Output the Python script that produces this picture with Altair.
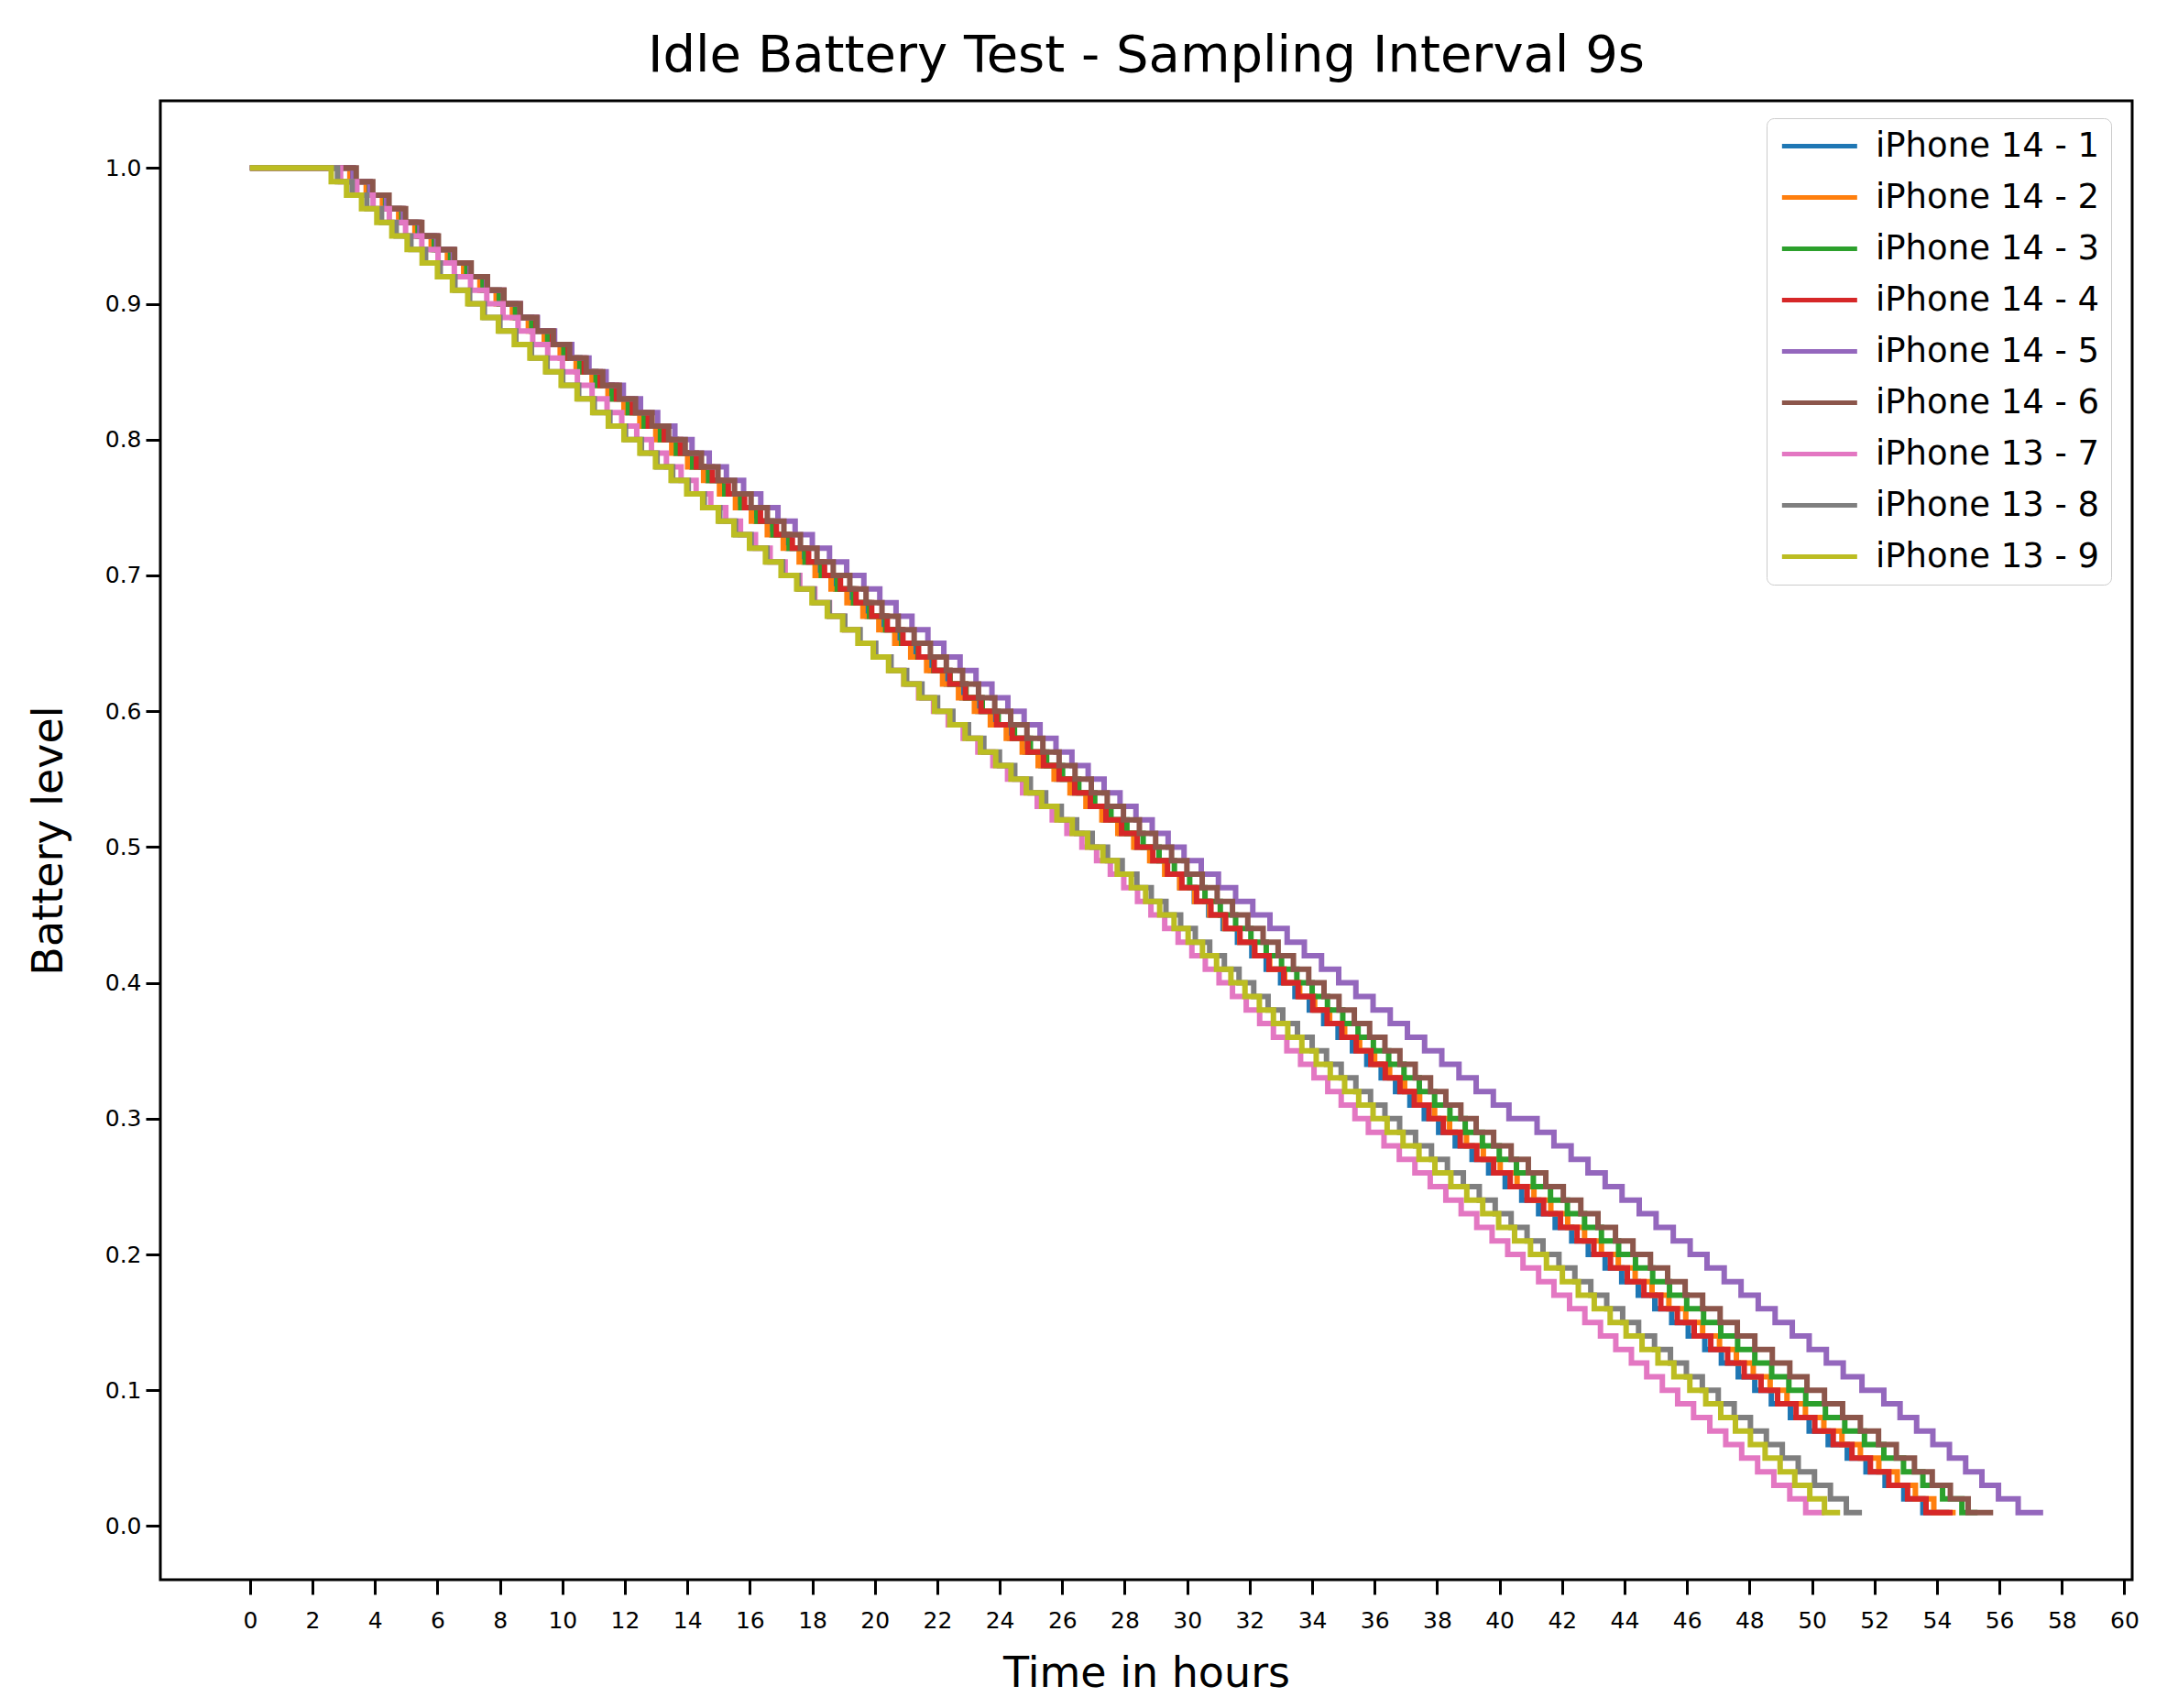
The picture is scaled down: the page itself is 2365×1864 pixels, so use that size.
import altair as alt
import pandas as pd

SERIES = ["iPhone 14 - 1", "iPhone 14 - 2", "iPhone 14 - 3", "iPhone 14 - 4", "iPhone 14 - 5",
          "iPhone 14 - 6", "iPhone 13 - 7", "iPhone 13 - 8", "iPhone 13 - 9"]
COLORS = ["#1f77b4", "#ff7f0e", "#2ca02c", "#d62728", "#9467bd",
          "#8c564b", "#e377c2", "#7f7f7f", "#bcbd22"]

X_TICKS = [0, 2, 4, 6, 8, 10, 12, 14, 16, 18, 20, 22, 24, 26, 28, 30,
           32, 34, 36, 38, 40, 42, 44, 46, 48, 50, 52, 54, 56, 58, 60]
Y_TICKS = [0.0, 0.1, 0.2, 0.3, 0.4, 0.5, 0.6, 0.7, 0.8, 0.9, 1.0]

# battery level reached at each time sample (1% steps), last sample repeats 0.01
LEVELS = [1.00, 0.99, 0.98, 0.97, 0.96, 0.95, 0.94, 0.93, 0.92, 0.91, 0.90,
          0.89, 0.88, 0.87, 0.86, 0.85, 0.84, 0.83, 0.82, 0.81, 0.80,
          0.79, 0.78, 0.77, 0.76, 0.75, 0.74, 0.73, 0.72, 0.71, 0.70,
          0.69, 0.68, 0.67, 0.66, 0.65, 0.64, 0.63, 0.62, 0.61, 0.60,
          0.59, 0.58, 0.57, 0.56, 0.55, 0.54, 0.53, 0.52, 0.51, 0.50,
          0.49, 0.48, 0.47, 0.46, 0.45, 0.44, 0.43, 0.42, 0.41, 0.40,
          0.39, 0.38, 0.37, 0.36, 0.35, 0.34, 0.33, 0.32, 0.31, 0.30,
          0.29, 0.28, 0.27, 0.26, 0.25, 0.24, 0.23, 0.22, 0.21, 0.20,
          0.19, 0.18, 0.17, 0.16, 0.15, 0.14, 0.13, 0.12, 0.11, 0.10,
          0.09, 0.08, 0.07, 0.06, 0.05, 0.04, 0.03, 0.02, 0.01, 0.01]

# time in hours at which each level above is reached
T_14_1 = [0, 3.20, 3.73, 4.26, 4.79, 5.32, 5.85, 6.38, 6.91, 7.44, 7.97, 8.50,
          9.01, 9.53, 10.04, 10.55, 11.06, 11.58, 12.09, 12.60, 13.11, 13.63, 14.14, 14.65, 15.16, 15.68, 16.19, 16.70, 17.21, 17.73, 18.24, 18.75,
          19.26, 19.76, 20.27, 20.77, 21.28, 21.78, 22.29, 22.79, 23.30, 23.80, 24.31, 24.81, 25.32, 25.82, 26.33, 26.83, 27.34, 27.84, 28.35, 28.85,
          29.31, 29.77, 30.23, 30.69, 31.15, 31.61, 32.07, 32.53, 32.99, 33.45, 33.91, 34.37, 34.83, 35.29, 35.75, 36.21, 36.67, 37.13, 37.59, 38.05,
          38.58, 39.12, 39.65, 40.18, 40.71, 41.25, 41.78, 42.31, 42.84, 43.38, 43.91, 44.44, 44.97, 45.51, 46.04, 46.57, 47.10, 47.64, 48.17, 48.70,
          49.31, 49.91, 50.52, 51.13, 51.73, 52.34, 52.94, 53.55, 54.40]
T_14_2 = [0, 3.20, 3.72, 4.24, 4.76, 5.28, 5.80, 6.32, 6.84, 7.36, 7.88, 8.40,
          8.91, 9.42, 9.93, 10.44, 10.95, 11.46, 11.97, 12.48, 12.99, 13.50, 14.01, 14.52, 15.03, 15.54, 16.05, 16.56, 17.07, 17.58, 18.09, 18.60,
          19.11, 19.62, 20.13, 20.64, 21.15, 21.66, 22.17, 22.68, 23.19, 23.70, 24.21, 24.72, 25.23, 25.74, 26.25, 26.76, 27.27, 27.78, 28.29, 28.80,
          29.28, 29.76, 30.24, 30.72, 31.20, 31.68, 32.16, 32.64, 33.12, 33.60, 34.08, 34.56, 35.04, 35.52, 36.00, 36.48, 36.96, 37.44, 37.92, 38.40,
          38.94, 39.48, 40.02, 40.56, 41.10, 41.64, 42.18, 42.72, 43.26, 43.80, 44.34, 44.88, 45.42, 45.96, 46.50, 47.04, 47.58, 48.12, 48.66, 49.20,
          49.79, 50.38, 50.96, 51.55, 52.14, 52.73, 53.31, 53.90, 54.60]
T_14_3 = [0, 3.30, 3.82, 4.34, 4.86, 5.38, 5.90, 6.42, 6.94, 7.46, 7.98, 8.50,
          9.02, 9.53, 10.05, 10.56, 11.08, 11.59, 12.11, 12.62, 13.14, 13.65, 14.17, 14.68, 15.20, 15.71, 16.23, 16.74, 17.26, 17.77, 18.29, 18.80,
          19.32, 19.83, 20.35, 20.86, 21.38, 21.89, 22.41, 22.92, 23.44, 23.95, 24.47, 24.98, 25.50, 26.01, 26.53, 27.04, 27.56, 28.07, 28.59, 29.10,
          29.59, 30.08, 30.57, 31.06, 31.55, 32.04, 32.53, 33.02, 33.51, 34.00, 34.49, 34.98, 35.47, 35.96, 36.45, 36.94, 37.43, 37.92, 38.41, 38.90,
          39.45, 39.99, 40.54, 41.08, 41.63, 42.17, 42.72, 43.26, 43.81, 44.35, 44.90, 45.44, 45.99, 46.53, 47.08, 47.62, 48.17, 48.71, 49.26, 49.80,
          50.43, 51.05, 51.68, 52.30, 52.93, 53.55, 54.18, 54.80, 55.30]
T_14_4 = [0, 3.30, 3.84, 4.37, 4.91, 5.44, 5.98, 6.51, 7.05, 7.58, 8.12, 8.65,
          9.16, 9.68, 10.19, 10.70, 11.21, 11.73, 12.24, 12.75, 13.26, 13.78, 14.29, 14.80, 15.31, 15.83, 16.34, 16.85, 17.36, 17.88, 18.39, 18.90,
          19.40, 19.90, 20.40, 20.90, 21.40, 21.90, 22.40, 22.90, 23.40, 23.90, 24.40, 24.90, 25.40, 25.90, 26.40, 26.90, 27.40, 27.90, 28.40, 28.90,
          29.37, 29.83, 30.30, 30.76, 31.23, 31.69, 32.16, 32.62, 33.09, 33.55, 34.02, 34.48, 34.95, 35.41, 35.88, 36.34, 36.81, 37.27, 37.74, 38.20,
          38.74, 39.27, 39.81, 40.34, 40.88, 41.41, 41.95, 42.48, 43.02, 43.55, 44.09, 44.62, 45.16, 45.69, 46.23, 46.76, 47.30, 47.83, 48.37, 48.90,
          49.49, 50.09, 50.68, 51.28, 51.87, 52.46, 53.06, 53.65, 54.50]
T_14_5 = [0, 3.30, 3.84, 4.37, 4.91, 5.44, 5.98, 6.51, 7.05, 7.58, 8.12, 8.65,
          9.20, 9.75, 10.30, 10.85, 11.40, 11.95, 12.50, 13.05, 13.60, 14.15, 14.70, 15.25, 15.80, 16.35, 16.90, 17.45, 18.00, 18.55, 19.10, 19.65,
          20.16, 20.68, 21.19, 21.70, 22.21, 22.73, 23.24, 23.75, 24.26, 24.78, 25.29, 25.80, 26.31, 26.83, 27.34, 27.85, 28.36, 28.88, 29.39, 29.90,
          30.45, 31.00, 31.55, 32.10, 32.65, 33.20, 33.75, 34.30, 34.85, 35.40, 35.95, 36.50, 37.05, 37.60, 38.15, 38.70, 39.25, 39.80, 40.30, 41.20,
          41.74, 42.29, 42.83, 43.38, 43.92, 44.47, 45.01, 45.56, 46.10, 46.64, 47.19, 47.73, 48.28, 48.82, 49.37, 49.91, 50.46, 51.00, 51.60, 52.30,
          52.82, 53.35, 53.87, 54.40, 54.92, 55.44, 55.97, 56.60, 57.40]
T_14_6 = [0, 3.40, 3.93, 4.45, 4.98, 5.50, 6.03, 6.55, 7.08, 7.60, 8.13, 8.65,
          9.18, 9.71, 10.23, 10.76, 11.29, 11.82, 12.34, 12.87, 13.40, 13.93, 14.45, 14.98, 15.51, 16.04, 16.56, 17.09, 17.62, 18.15, 18.67, 19.20,
          19.72, 20.23, 20.75, 21.26, 21.78, 22.29, 22.81, 23.32, 23.84, 24.35, 24.87, 25.38, 25.90, 26.41, 26.93, 27.44, 27.96, 28.47, 28.99, 29.50,
          29.99, 30.48, 30.96, 31.45, 31.94, 32.43, 32.91, 33.40, 33.89, 34.38, 34.86, 35.35, 35.84, 36.33, 36.81, 37.30, 37.79, 38.28, 38.76, 39.25,
          39.81, 40.37, 40.92, 41.48, 42.04, 42.60, 43.15, 43.71, 44.27, 44.83, 45.38, 45.94, 46.50, 47.06, 47.61, 48.17, 48.73, 49.29, 49.84, 50.40,
          50.98, 51.55, 52.13, 52.70, 53.28, 53.85, 54.43, 55.00, 55.80]
T_13_7 = [0, 2.90, 3.42, 3.94, 4.46, 4.98, 5.50, 6.02, 6.54, 7.06, 7.58, 8.10,
          8.58, 9.05, 9.53, 10.00, 10.48, 10.95, 11.43, 11.90, 12.38, 12.85, 13.33, 13.80, 14.28, 14.75, 15.23, 15.70, 16.18, 16.65, 17.13, 17.60,
          18.08, 18.55, 19.03, 19.50, 19.98, 20.45, 20.93, 21.40, 21.88, 22.35, 22.83, 23.30, 23.78, 24.25, 24.73, 25.20, 25.68, 26.15, 26.63, 27.10,
          27.54, 27.97, 28.41, 28.84, 29.28, 29.71, 30.15, 30.58, 31.02, 31.45, 31.89, 32.32, 32.76, 33.19, 33.63, 34.06, 34.50, 34.93, 35.37, 35.80,
          36.30, 36.79, 37.29, 37.78, 38.28, 38.77, 39.27, 39.76, 40.26, 40.75, 41.25, 41.74, 42.24, 42.73, 43.23, 43.72, 44.22, 44.71, 45.21, 45.70,
          46.21, 46.73, 47.24, 47.75, 48.26, 48.78, 49.29, 49.80, 50.40]
T_13_8 = [0, 2.80, 3.27, 3.74, 4.21, 4.68, 5.15, 5.62, 6.09, 6.56, 7.03, 7.50,
          8.00, 8.51, 9.01, 9.51, 10.01, 10.52, 11.02, 11.52, 12.02, 12.53, 13.03, 13.53, 14.03, 14.54, 15.04, 15.54, 16.04, 16.55, 17.05, 17.55,
          18.05, 18.54, 19.04, 19.53, 20.03, 20.52, 21.02, 21.51, 22.01, 22.50, 23.00, 23.49, 23.99, 24.48, 24.98, 25.47, 25.97, 26.46, 26.96, 27.45,
          27.92, 28.39, 28.85, 29.32, 29.79, 30.26, 30.72, 31.19, 31.66, 32.13, 32.59, 33.06, 33.53, 34.00, 34.46, 34.93, 35.40, 35.87, 36.33, 36.80,
          37.31, 37.82, 38.33, 38.84, 39.35, 39.86, 40.37, 40.88, 41.39, 41.90, 42.41, 42.92, 43.43, 43.94, 44.45, 44.96, 45.47, 45.98, 46.49, 47.00,
          47.51, 48.03, 48.54, 49.05, 49.56, 50.08, 50.59, 51.10, 51.60]
T_13_9 = [0, 2.60, 3.09, 3.57, 4.06, 4.54, 5.03, 5.51, 6.00, 6.48, 6.97, 7.45,
          7.95, 8.46, 8.96, 9.46, 9.96, 10.47, 10.97, 11.47, 11.97, 12.48, 12.98, 13.48, 13.98, 14.49, 14.99, 15.49, 15.99, 16.50, 17.00, 17.50,
          17.99, 18.48, 18.97, 19.46, 19.95, 20.44, 20.93, 21.42, 21.91, 22.40, 22.89, 23.38, 23.87, 24.36, 24.85, 25.34, 25.83, 26.32, 26.81, 27.30,
          27.76, 28.21, 28.67, 29.12, 29.58, 30.03, 30.49, 30.94, 31.40, 31.85, 32.31, 32.76, 33.22, 33.67, 34.13, 34.58, 35.04, 35.49, 35.95, 36.40,
          36.91, 37.42, 37.93, 38.44, 38.95, 39.46, 39.97, 40.48, 40.99, 41.50, 42.01, 42.52, 43.03, 43.54, 44.05, 44.56, 45.07, 45.58, 46.09, 46.60,
          47.08, 47.55, 48.03, 48.50, 48.98, 49.45, 49.93, 50.40, 50.90]

TIMES = [T_14_1, T_14_2, T_14_3, T_14_4, T_14_5, T_14_6, T_13_7, T_13_8, T_13_9]

frames = []
for name, times in zip(SERIES, TIMES):
    assert len(times) == len(LEVELS), (name, len(times))
    frames.append(pd.DataFrame({"series": name, "t": times, "level": LEVELS}))

FONT = "DejaVu Sans"

color = alt.Color(
    "series:N",
    scale=alt.Scale(domain=SERIES, range=COLORS),
    title=None,
    legend=alt.Legend(
        orient="none", legendX=1753, legendY=19,
        symbolType="M-1,0H5", symbolSize=747, symbolStrokeWidth=5,
        labelFont=FONT, labelFontSize=37, labelColor="black", labelLimit=500,
        labelOffset=70, rowPadding=18, padding=12,
        fillColor="white", strokeColor="#cccccc", cornerRadius=8,
    ),
)
x = alt.X(
    "t:Q",
    scale=alt.Scale(domain=[-2.87, 60.25], nice=False, zero=False),
    axis=alt.Axis(values=X_TICKS, format="d", title="Time in hours",
                  labelPadding=16, titleY=102, titleBaseline="middle"),
)
y = alt.Y(
    "level:Q",
    scale=alt.Scale(domain=[-0.0395, 1.0495], nice=False, zero=False),
    axis=alt.Axis(values=Y_TICKS, format=".1f", title="Battery level",
                  labelPadding=5, titleX=-122, titleY=807, titleAngle=270,
                  titleAlign="center", titleBaseline="middle"),
)

layers = [
    alt.Chart(df).mark_line(interpolate="step-after", strokeWidth=6, clip=True)
    .encode(x=x, y=y, color=color)
    for df in frames
]

chart = (
    alt.layer(*layers)
    .properties(
        width=2152, height=1614,
        title=alt.TitleParams(text="Idle Battery Test - Sampling Interval 9s",
                              font=FONT, fontSize=56, fontWeight="normal",
                              color="black", anchor="middle", offset=20),
        autosize=alt.AutoSizeParams(type="none"),
        padding={"left": 167, "top": 102, "right": 25, "bottom": 132},
    )
    .configure_view(stroke="black", strokeWidth=3)
    .configure_axis(domain=False, grid=False, tickColor="black", tickWidth=3,
                    tickSize=16, labelColor="black", labelFont=FONT,
                    labelFontSize=25, titleFont=FONT, titleFontSize=46,
                    titleFontWeight="normal", titleColor="black",
                    labelFlush=False, labelOverlap=False)
)

chart.save("out.html", embed_options={"renderer": "svg", "actions": False})
